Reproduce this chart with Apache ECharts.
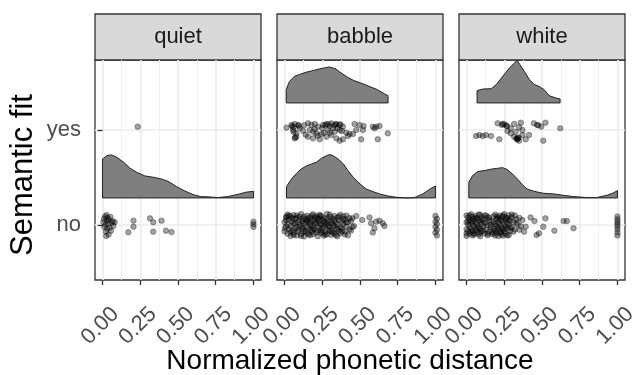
<!DOCTYPE html>
<html><head><meta charset="utf-8">
<script src="https://cdn.jsdelivr.net/npm/echarts@6/dist/echarts.min.js"></script>
<style>html,body{margin:0;padding:0;background:#fff}#c{width:634px;height:375px}</style>
</head><body><div id="c"></div>
<script>
// ---------- DATA ----------
const facets = ['quiet', 'babble', 'white'];
const catLabels = ['no', 'yes'];
const xTicks = [0, 0.25, 0.5, 0.75, 1];
const xMinorTicks = [0.125, 0.375, 0.625, 0.875];
const yTicks = [1, 2];
const xTitle = 'Normalized phonetic distance';
const yTitle = 'Semantic fit';

// density curves (x, height in category units)
const quietNoDensX = [0,0.03,0.06,0.095,0.14,0.18,0.226,0.28,0.335,0.39,0.434,0.49,0.54,0.6,0.65,0.72,0.76,0.83,0.9,0.95,1.0];
const quietNoDensH = [0.41,0.446,0.453,0.428,0.375,0.316,0.27,0.232,0.218,0.2,0.175,0.12,0.077,0.035,0.014,0.01,0.0035,0.014,0.039,0.06,0.07];
const babbleNoDensX = [0.013,0.046,0.08,0.11,0.145,0.18,0.21,0.245,0.28,0.3,0.32,0.355,0.39,0.42,0.455,0.5,0.54,0.585,0.63,0.685,0.74,0.806,0.86,0.916,0.96,1.0];
const babbleNoDensH = [0.12,0.2,0.26,0.305,0.337,0.358,0.375,0.418,0.446,0.456,0.446,0.41,0.358,0.288,0.218,0.147,0.095,0.067,0.042,0.02,0.007,0.0,0.003,0.042,0.09,0.126];
const babbleYesDensX = [0.011,0.033,0.066,0.1,0.143,0.187,0.23,0.264,0.297,0.34,0.374,0.418,0.46,0.505,0.56,0.615,0.66,0.686];
const babbleYesDensH = [0.14,0.228,0.28,0.3,0.323,0.34,0.358,0.368,0.379,0.358,0.316,0.27,0.235,0.21,0.175,0.14,0.098,0.077];
const whiteNoDensX = [0.015,0.04,0.074,0.118,0.16,0.205,0.24,0.27,0.304,0.337,0.37,0.4,0.446,0.51,0.58,0.64,0.71,0.8,0.86,0.93,0.97,1.0];
const whiteNoDensH = [0.165,0.235,0.277,0.288,0.302,0.312,0.319,0.298,0.253,0.2,0.14,0.095,0.07,0.049,0.042,0.028,0.014,0.0035,0.003,0.028,0.05,0.077];
const whiteYesDensX = [0.07,0.11,0.164,0.197,0.24,0.284,0.317,0.335,0.354,0.383,0.416,0.45,0.48,0.514,0.547,0.59,0.62];
const whiteYesDensH = [0.13,0.147,0.15,0.193,0.28,0.368,0.42,0.449,0.403,0.333,0.246,0.193,0.175,0.14,0.077,0.053,0.042];

// jittered points: [x, vertical jitter around category]
const quietNoPts = [[0.005,0.03],[0.01,0.065],[0.012,-0.02],[0.018,0.09],[0.02,0.005],[0.022,-0.07],[0.028,0.045],[0.03,-0.04],[0.034,0.075],[0.038,0.015],[0.04,-0.1],[0.043,0.055],[0.047,-0.03],[0.052,0.085],[0.056,-0.06],[0.062,0.025],[0.068,0.04],[0.072,-0.01],[0.08,0.03],[0.026,0.105],[0.024,-0.115],
[0.171,-0.077],[0.205,0.046],[0.205,-0.018],[0.314,0.07],[0.336,0.028],[0.336,-0.07],[0.391,0.046],[0.42,-0.06],[0.457,-0.075],
[1.0,0.035],[1.0,0.008],[1.0,-0.02]];
const quietYesPts = [[0.233,0.035]];
const babbleYesPts = [[0.013,0.025],[0.046,0.053],[0.057,0.0],[0.068,0.063],[0.068,-0.088],[0.079,-0.035],[0.079,-0.07],[0.09,0.053],[0.123,-0.007],[0.156,0.07],[0.156,-0.07],[0.167,0.0],[0.178,0.053],[0.189,-0.018],[0.189,-0.088],[0.2,0.063],[0.211,-0.035],[0.222,0.035],[0.233,-0.098],[0.244,-0.042],[0.255,0.053],[0.277,0.063],[0.277,-0.07],[0.288,0.0],[0.31,0.07],[0.31,-0.053],[0.321,0.018],[0.332,-0.018],[0.343,0.063],[0.343,-0.088],[0.365,0.053],[0.365,0.0],[0.365,-0.112],[0.387,0.035],[0.387,-0.098],[0.409,-0.028],[0.42,-0.063],[0.431,-0.042],[0.453,-0.042],[0.464,0.063],[0.475,0.0],[0.497,0.053],[0.508,-0.098],[0.519,0.0],[0.524,0.042],[0.585,0.035],[0.596,0.018],[0.607,0.035],[0.618,-0.098],[0.629,0.042],[0.684,-0.035],
[0.05,0.04],[0.06,-0.02],[0.1,0.02],[0.13,0.05],[0.14,-0.05],[0.2,0.01],[0.22,-0.06],[0.25,0.02],[0.3,0.04],[0.3,-0.03],[0.35,0.02],[0.37,0.06],[0.38,-0.01],
[0.06,0.03],[0.07,-0.08],[0.27,0.05],[0.29,0.06],[0.26,-0.03],[0.33,0.05],[0.34,0.06],[0.095,0.045]];
const babbleNoPts = [[0.02,0.11],[0.06,0.104],[0.11,0.115],[0.15,0.098],[0.19,0.112],[0.24,0.101],[0.28,0.117],[0.33,0.095],[0.37,0.108],[0.41,0.1],
[0.01,0.082],[0.04,0.09],[0.08,0.076],[0.13,0.088],[0.17,0.079],[0.21,0.093],[0.26,0.072],[0.30,0.086],[0.35,0.08],[0.39,0.091],[0.43,0.074],
[0.03,0.058],[0.07,0.066],[0.10,0.052],[0.14,0.061],[0.18,0.049],[0.22,0.064],[0.25,0.055],[0.29,0.047],[0.32,0.068],[0.36,0.053],[0.40,0.06],[0.44,0.044],
[0.00,0.03],[0.05,0.038],[0.09,0.027],[0.12,0.04],[0.16,0.032],[0.20,0.021],[0.23,0.037],[0.27,0.029],[0.31,0.041],[0.34,0.025],[0.38,0.033],[0.42,0.028],
[0.02,0.008],[0.06,0.014],[0.10,0.002],[0.13,0.011],[0.17,-0.003],[0.21,0.016],[0.24,0.005],[0.28,0.012],[0.32,-0.001],[0.35,0.009],[0.39,0.004],
[0.01,-0.018],[0.04,-0.011],[0.08,-0.024],[0.11,-0.014],[0.15,-0.02],[0.19,-0.009],[0.23,-0.027],[0.26,-0.016],[0.30,-0.022],[0.33,-0.012],[0.37,-0.025],[0.41,-0.017],[0.45,-0.02],
[0.03,-0.043],[0.07,-0.036],[0.12,-0.048],[0.16,-0.039],[0.20,-0.045],[0.25,-0.034],[0.29,-0.05],[0.34,-0.041],[0.38,-0.037],[0.43,-0.046],
[0.00,-0.066],[0.05,-0.059],[0.09,-0.071],[0.14,-0.062],[0.18,-0.068],[0.22,-0.057],[0.27,-0.073],[0.31,-0.064],[0.36,-0.06],[0.40,-0.07],
[0.02,-0.092],[0.06,-0.085],[0.11,-0.097],[0.15,-0.088],[0.19,-0.094],[0.24,-0.083],[0.28,-0.099],[0.33,-0.09],[0.37,-0.086],
[0.04,-0.116],[0.08,-0.11],[0.13,-0.12],[0.17,-0.108],[0.22,-0.118],[0.26,-0.112],[0.31,-0.105],[0.35,-0.119],[0.42,-0.109],
[0.14,0.03],[0.18,-0.05],[0.22,0.07],[0.25,-0.08],[0.27,0.0],[0.2,0.05],[0.3,-0.06],[0.12,-0.03],[0.24,0.09],[0.16,0.07],
[0.03,0.1],[0.05,0.07],[0.07,0.02],[0.09,-0.05],[0.1,0.09],[0.12,0.065],[0.13,-0.07],[0.15,0.045],[0.16,-0.1],[0.17,0.02],[0.18,0.1],[0.19,-0.035],[0.2,0.08],[0.21,-0.08],[0.23,0.01],[0.23,0.105],[0.24,-0.055],[0.26,0.04],[0.27,-0.1],[0.28,0.07],[0.29,-0.01],[0.3,0.11],[0.31,0.015],[0.32,-0.08],[0.33,0.05],[0.34,-0.105],[0.35,-0.04],[0.36,0.09],[0.38,-0.065],[0.39,0.06],[0.4,-0.1],[0.41,0.03],[0.06,-0.105],[0.08,0.1],[0.11,-0.115],[0.04,-0.075],[0.01,0.05],[0.44,-0.06],[0.45,0.07],[0.46,-0.01],
[0.013,0.088],[0.002,-0.035],[0.475,0.095],[0.515,0.053],[0.563,0.08],[0.574,0.018],[0.607,0.035],[0.596,-0.035],[0.585,-0.08],[0.651,0.018],[0.662,-0.01],[0.629,0.046],
[1.0,0.095],[1.01,0.065],[1.0,0.035],[1.01,0.01],[1.0,-0.02],[1.01,-0.05],[1.0,-0.08],[1.01,-0.11]];
const whiteYesPts = [[0.206,0.07],[0.234,0.053],[0.267,0.042],[0.315,0.063],[0.359,0.077],[0.293,0.018],[0.348,0.028],[0.446,0.07],[0.468,0.053],[0.495,0.035],[0.523,0.077],[0.621,0.018],
[0.063,-0.063],[0.085,-0.053],[0.107,-0.063],[0.129,-0.053],[0.162,-0.063],[0.217,-0.098],[0.293,-0.035],[0.315,-0.07],[0.337,-0.098],[0.348,-0.112],[0.37,-0.053],[0.392,-0.098],[0.414,-0.053],[0.508,-0.112],[0.326,-0.018],[0.271,-0.01],[0.37,0.0],
[0.33,-0.09],[0.34,-0.085],[0.265,0.045],[0.475,0.05],[0.335,-0.095],[0.345,-0.08],[0.25,0.06],[0.24,0.065]];
const whiteNoPts = [[0.00,0.1],[0.03,0.112],[0.06,0.095],[0.09,0.108],[0.12,0.1],[0.19,0.11],[0.22,0.098],[0.25,0.115],[0.28,0.103],[0.32,0.1],
[0.01,0.078],[0.04,0.088],[0.07,0.072],[0.10,0.085],[0.14,0.079],[0.18,0.09],[0.21,0.076],[0.24,0.087],[0.27,0.071],[0.30,0.083],[0.35,0.075],
[0.02,0.055],[0.05,0.062],[0.08,0.048],[0.11,0.059],[0.15,0.051],[0.20,0.064],[0.23,0.05],[0.26,0.058],[0.29,0.046],[0.33,0.06],[0.37,0.052],
[0.00,0.03],[0.03,0.037],[0.06,0.024],[0.09,0.034],[0.13,0.028],[0.17,0.039],[0.21,0.026],[0.24,0.035],[0.27,0.022],[0.31,0.031],
[0.01,0.006],[0.04,0.013],[0.07,0.0],[0.10,0.009],[0.14,-0.004],[0.19,0.011],[0.22,0.003],[0.25,0.014],[0.28,-0.002],[0.34,0.007],
[0.02,-0.019],[0.05,-0.012],[0.08,-0.025],[0.11,-0.015],[0.16,-0.021],[0.20,-0.01],[0.23,-0.026],[0.26,-0.017],[0.30,-0.023],[0.36,-0.014],
[0.00,-0.044],[0.03,-0.037],[0.06,-0.049],[0.09,-0.04],[0.13,-0.046],[0.18,-0.035],[0.21,-0.051],[0.24,-0.042],[0.27,-0.038],[0.32,-0.047],
[0.01,-0.067],[0.04,-0.06],[0.07,-0.072],[0.10,-0.063],[0.15,-0.069],[0.19,-0.058],[0.22,-0.074],[0.25,-0.065],[0.29,-0.061],
[0.02,-0.093],[0.05,-0.086],[0.08,-0.098],[0.12,-0.089],[0.17,-0.095],[0.20,-0.084],[0.23,-0.1],[0.26,-0.091],
[0.00,-0.115],[0.04,-0.11],[0.09,-0.118],[0.14,-0.108],[0.21,-0.117],[0.24,-0.112],[0.28,-0.106],
[0.02,0.1],[0.04,0.04],[0.05,-0.1],[0.06,0.07],[0.07,-0.03],[0.08,0.11],[0.09,-0.08],[0.1,0.05],[0.11,-0.06],[0.12,0.02],[0.13,0.1],[0.14,-0.09],[0.15,0.08],[0.17,-0.06],[0.18,0.03],[0.19,-0.11],[0.2,0.09],[0.21,-0.03],[0.22,0.06],[0.23,-0.08],[0.24,0.1],[0.25,-0.04],[0.26,0.08],[0.27,-0.11],[0.28,0.05],[0.29,-0.03],[0.3,0.11],[0.31,-0.07],[0.33,0.02],[0.35,-0.05],[0.03,-0.07],[0.01,0.04],[0.0,-0.09],[0.16,0.0],[0.18,-0.085],
[0.424,0.08],[0.45,0.042],[0.523,0.07],[0.508,-0.018],[0.48,-0.088],[0.464,-0.105],[0.582,-0.06],[0.643,0.042],[0.665,0.042],[0.709,-0.035],[0.392,-0.018],[0.381,-0.07],
[1.0,0.09],[1.0,0.06],[1.0,0.035],[1.0,0.01],[1.0,-0.015],[1.0,-0.045],[1.0,-0.08],[1.0,-0.11]];

// ---------- LAYOUT / STYLE ----------
const panelLeft = [95, 277, 459];
const panelW = 166, panelTop = 60, panelH = 220;
const densNudge = 0.285;
const FONT = 'Liberation Sans';

const panels = [
  {dens: [[quietNoDensX, quietNoDensH, 1]], pts: [[quietNoPts, 1], [quietYesPts, 2]]},
  {dens: [[babbleNoDensX, babbleNoDensH, 1], [babbleYesDensX, babbleYesDensH, 2]], pts: [[babbleNoPts, 1], [babbleYesPts, 2]]},
  {dens: [[whiteNoDensX, whiteNoDensH, 1], [whiteYesDensX, whiteYesDensH, 2]], pts: [[whiteNoPts, 1], [whiteYesPts, 2]]}
];

const grid = [], xAxis = [], yAxis = [], series = [], graphic = [];
facets.forEach((f, i) => {
  grid.push({left: panelLeft[i], top: panelTop, width: panelW, height: panelH, show: true,
    borderColor: '#333333', borderWidth: 1.3, backgroundColor: 'rgba(0,0,0,0)', containLabel: false, outerBoundsMode: 'none'});
  xAxis.push({gridIndex: i, type: 'value', min: -0.05, max: 1.05,
    axisLine: {show: false},
    axisTick: {show: true, length: 5, customValues: xTicks, lineStyle: {color: '#333333', width: 1.3}},
    axisLabel: {customValues: xTicks, rotate: 45, align: 'right', verticalAlign: 'top', margin: 18, padding: [7, 0, 0, 0],
      fontSize: 22, color: '#4D4D4D', fontFamily: FONT, formatter: v => v.toFixed(2)},
    splitLine: {show: true, lineStyle: {color: '#EBEBEB', width: 1.6}}});
  xAxis.push({gridIndex: i, type: 'value', min: -0.05, max: 1.05,
    axisLine: {show: false}, axisLabel: {show: false},
    axisTick: {show: false, customValues: xMinorTicks},
    splitLine: {show: true, lineStyle: {color: '#F0F0F0', width: 1}}});
  yAxis.push({gridIndex: i, type: 'value', min: 0.421, max: 2.737,
    axisLine: {show: false},
    axisTick: {show: i === 0, length: 5, customValues: yTicks, lineStyle: {color: '#333333', width: 1.3}},
    axisLabel: {show: i === 0, customValues: yTicks, margin: 14, fontSize: 22, color: '#4D4D4D', fontFamily: FONT,
      formatter: v => catLabels[Math.round(v) - 1]},
    splitLine: {show: true, lineStyle: {color: '#EBEBEB', width: 1.6}}});

  panels[i].dens.forEach(([xs, hs, cat]) => {
    const base = cat + densNudge;
    series.push({type: 'custom', xAxisIndex: 2 * i, yAxisIndex: i, silent: true, clip: false,
      data: [[xs[0], base]],
      renderItem: (params, api) => {
        const pts = [api.coord([xs[0], base])];
        for (let k = 0; k < xs.length; k++) pts.push(api.coord([xs[k], base + hs[k]]));
        pts.push(api.coord([xs[xs.length - 1], base]));
        return {type: 'polygon', shape: {points: pts},
          style: {fill: '#7F7F7F', stroke: '#222222', lineWidth: 1}};
      }});
  });
  panels[i].pts.forEach(([arr, cat]) => {
    series.push({type: 'scatter', xAxisIndex: 2 * i, yAxisIndex: i, silent: true,
      data: arr.map(p => [p[0], cat + p[1]]),
      symbolSize: 5.5, itemStyle: {color: 'rgba(0,0,0,0.45)', borderColor: 'rgba(0,0,0,0.4)', borderWidth: 1}});
  });

  graphic.push({type: 'rect', shape: {x: panelLeft[i], y: 14, width: panelW, height: 46},
    style: {fill: '#D9D9D9', stroke: '#333333', lineWidth: 1.3}});
  graphic.push({type: 'text', x: panelLeft[i] + panelW / 2, y: 37,
    style: {text: f, align: 'center', verticalAlign: 'middle', fontSize: 22, fill: '#1A1A1A', fontFamily: FONT}});
});
graphic.push({type: 'text', x: 350, y: 361,
  style: {text: xTitle, align: 'center', verticalAlign: 'middle', fontSize: 28, fill: '#000', fontFamily: FONT}});
graphic.push({type: 'text', x: 23, y: 175, rotation: Math.PI / 2,
  style: {text: yTitle, align: 'center', verticalAlign: 'middle', fontSize: 31, fill: '#000', fontFamily: FONT}});

const chart = echarts.init(document.getElementById('c'), null, {renderer: 'canvas'});
chart.setOption({animation: false, backgroundColor: '#fff', grid, xAxis, yAxis, series, graphic});
</script></body></html>
